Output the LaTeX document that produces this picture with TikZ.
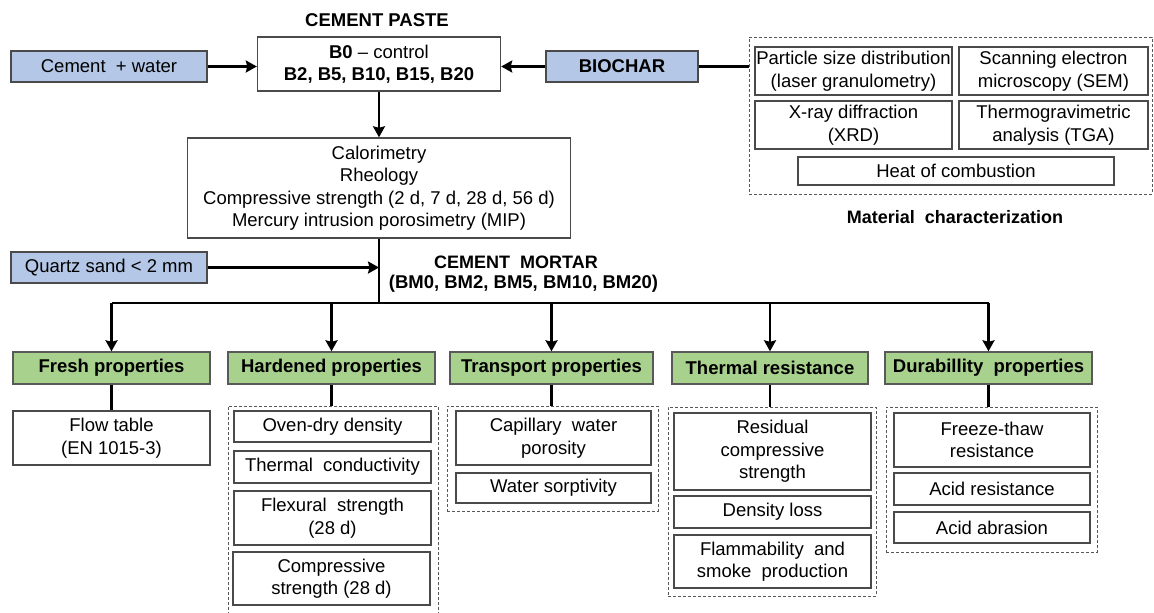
\documentclass[tikz,border=0pt]{standalone}
\usepackage{fontspec}
\setmainfont{Liberation Sans}
\usepackage{tikz}
\usetikzlibrary{arrows.meta}
\definecolor{inblue}{HTML}{B4C7E7}
\definecolor{ingreen}{HTML}{A9D18E}
\definecolor{boxline}{HTML}{4A4A4A}
\definecolor{grpline}{HTML}{595959}
\newcommand{\txtsize}{\fontsize{18.5}{22.5}\selectfont}
\tikzset{
  txt/.style={font=\txtsize, align=center, inner sep=0pt},
  whitebox/.style={txt, draw=boxline, line width=1.4pt, fill=white},
  bluebox/.style={txt, draw=boxline, line width=1.4pt, fill=inblue},
  greenbox/.style={txt, draw=grpline, line width=1.4pt, fill=ingreen, font=\bfseries\txtsize, minimum height=32pt},
  group/.style={draw=grpline, line width=0.9pt, dash pattern=on 3pt off 2pt, inner sep=0pt},
  title/.style={font=\bfseries\fontsize{18.5}{22}\selectfont, inner sep=0pt},
  link/.style={line width=2.2pt},
  arrow/.style={link, ->, >={Stealth[length=11pt, width=12pt, inset=1.5pt]}}
}

\begin{document}
\begin{tikzpicture}[x=1pt,y=-1pt]
\path[use as bounding box, clip] (0,0) rectangle (1154,613);

% cement paste
\node[title] (pastetitle) at (377,20) {CEMENT PASTE};
\node[bluebox, minimum width=196pt, minimum height=31pt] (cw) at (109,66.5) {Cement \ + water};
\node[whitebox, minimum width=243pt, minimum height=54pt] (paste) at (379,64) {\textbf{B0} -- control\\ \textbf{B2, B5, B10, B15, B20}};
\node[bluebox, minimum width=152pt, minimum height=31pt, font=\bfseries\txtsize] (biochar) at (622,66.5) {BIOCHAR};
\node[whitebox, minimum width=383pt, minimum height=100pt] (calor) at (379,188) {Calorimetry\\ Rheology\\ Compressive strength (2 d, 7 d, 28 d, 56 d)\\ Mercury intrusion porosimetry (MIP)};

% material characterization
\node[group, minimum width=403pt, minimum height=157pt] (charac) at (950.5,115.5) {};
\node[whitebox, minimum width=197pt, minimum height=48pt] (psd) at (853.5,71) {Particle size distribution\\ (laser granulometry)};
\node[whitebox, minimum width=189pt, minimum height=48pt] (sem) at (1053.5,71) {Scanning electron\\ microscopy (SEM)};
\node[whitebox, minimum width=197pt, minimum height=48pt] (xrd) at (853.5,125) {X-ray diffraction\\ (XRD)};
\node[whitebox, minimum width=189pt, minimum height=48pt] (tga) at (1053.5,125) {Thermogravimetric\\ analysis (TGA)};
\node[whitebox, minimum width=316pt, minimum height=28pt] (heat) at (956,171) {Heat of combustion};
\node[title, font=\bfseries\fontsize{18}{21}\selectfont] (mattitle) at (955,217) {Material \ characterization};

% cement mortar
\node[bluebox, minimum width=196pt, minimum height=31pt] (sand) at (109,267.5) {Quartz sand \textless{} 2 mm};
\node[title, font=\bfseries\fontsize{18}{21}\selectfont] (mortar) at (516,262) {CEMENT \ MORTAR};
\node[title] (mortarset) at (523.5,284) {(BM0, BM2, BM5, BM10, BM20)};
\coordinate (split) at (379,303);

\node[greenbox, minimum width=197pt] (fresh) at (111.5,368) {Fresh properties};
\node[greenbox, minimum width=207pt] (hard) at (331.5,368) {Hardened properties};
\node[greenbox, minimum width=203pt] (trans) at (551.5,368) {Transport properties};
\node[greenbox, minimum width=196pt] (therm) at (770,368) {Thermal resistance};
\node[greenbox, minimum width=207pt] (dura) at (988.5,368) {Durabillity \ properties};

\node[whitebox, minimum width=197pt, minimum height=54pt] (flow) at (111.5,438) {Flow table\\ (EN 1015-3)};

\node[group, minimum width=210pt, minimum height=214pt] (hardgrp) at (333,513) {};
\node[whitebox, minimum width=197pt, minimum height=31pt] (oven) at (332.5,426.5) {Oven-dry density};
\node[whitebox, minimum width=197pt, minimum height=32pt] (tcond) at (332.5,467) {Thermal \ conductivity};
\node[whitebox, minimum width=197pt, minimum height=54pt] (flex) at (332.5,518) {Flexural \ strength\\ (28 d)};
\node[whitebox, minimum width=197pt, minimum height=53pt] (comp) at (331.5,578.5) {Compressive\\ strength (28 d)};

\node[group, minimum width=211pt, minimum height=105pt] (transgrp) at (552.5,458.5) {};
\node[whitebox, minimum width=195pt, minimum height=54pt] (cap) at (553.5,438) {Capillary \ water\\ porosity};
\node[whitebox, minimum width=195pt, minimum height=30pt] (sorp) at (553.5,488) {Water sorptivity};

\node[group, minimum width=208pt, minimum height=189pt] (thermgrp) at (772,501.5) {};
\node[whitebox, minimum width=197pt, minimum height=77pt] (resid) at (772.5,451.5) {Residual\\ compressive\\ strength};
\node[whitebox, minimum width=197pt, minimum height=32pt] (dens) at (772.5,512) {Density loss};
\node[whitebox, minimum width=197pt, minimum height=53pt] (flam) at (772.5,561.5) {Flammability \ and\\ smoke \ production};

\node[group, minimum width=211pt, minimum height=145pt] (duragrp) at (991.5,479.5) {};
\node[whitebox, minimum width=196pt, minimum height=54pt] (freeze) at (992,440) {Freeze-thaw\\ resistance};
\node[whitebox, minimum width=196pt, minimum height=32pt] (acidr) at (992,489) {Acid resistance};
\node[whitebox, minimum width=196pt, minimum height=31pt] (acida) at (992,527.5) {Acid abrasion};

% connectors
\draw[arrow] (cw.east) -- (cw.east -| paste.west);
\draw[arrow] (biochar.west) -- (biochar.west -| paste.east);
\draw[link] (biochar.east) -- (biochar.east -| charac.west);
\draw[arrow] (paste) -- (calor);
\draw[link] (calor) -- (split);
\draw[arrow] (sand.east) -- (sand.east -| split);
\draw[link] (split -| fresh) -- (split -| dura);
\draw[arrow] (split -| fresh) -- (fresh);
\draw[arrow] (split -| hard) -- (hard);
\draw[arrow] (split -| trans) -- (trans);
\draw[arrow] (split -| therm) -- (therm);
\draw[arrow] (split -| dura) -- (dura);
\draw[link] (fresh) -- (flow);
\draw[link] (hard.south) -- (hard.south |- hardgrp.north);
\draw[link] (trans.south) -- (trans.south |- transgrp.north);
\draw[link] (therm.south) -- (therm.south |- thermgrp.north);
\draw[link] (dura.south) -- (dura.south |- duragrp.north);

\end{tikzpicture}
\end{document}
